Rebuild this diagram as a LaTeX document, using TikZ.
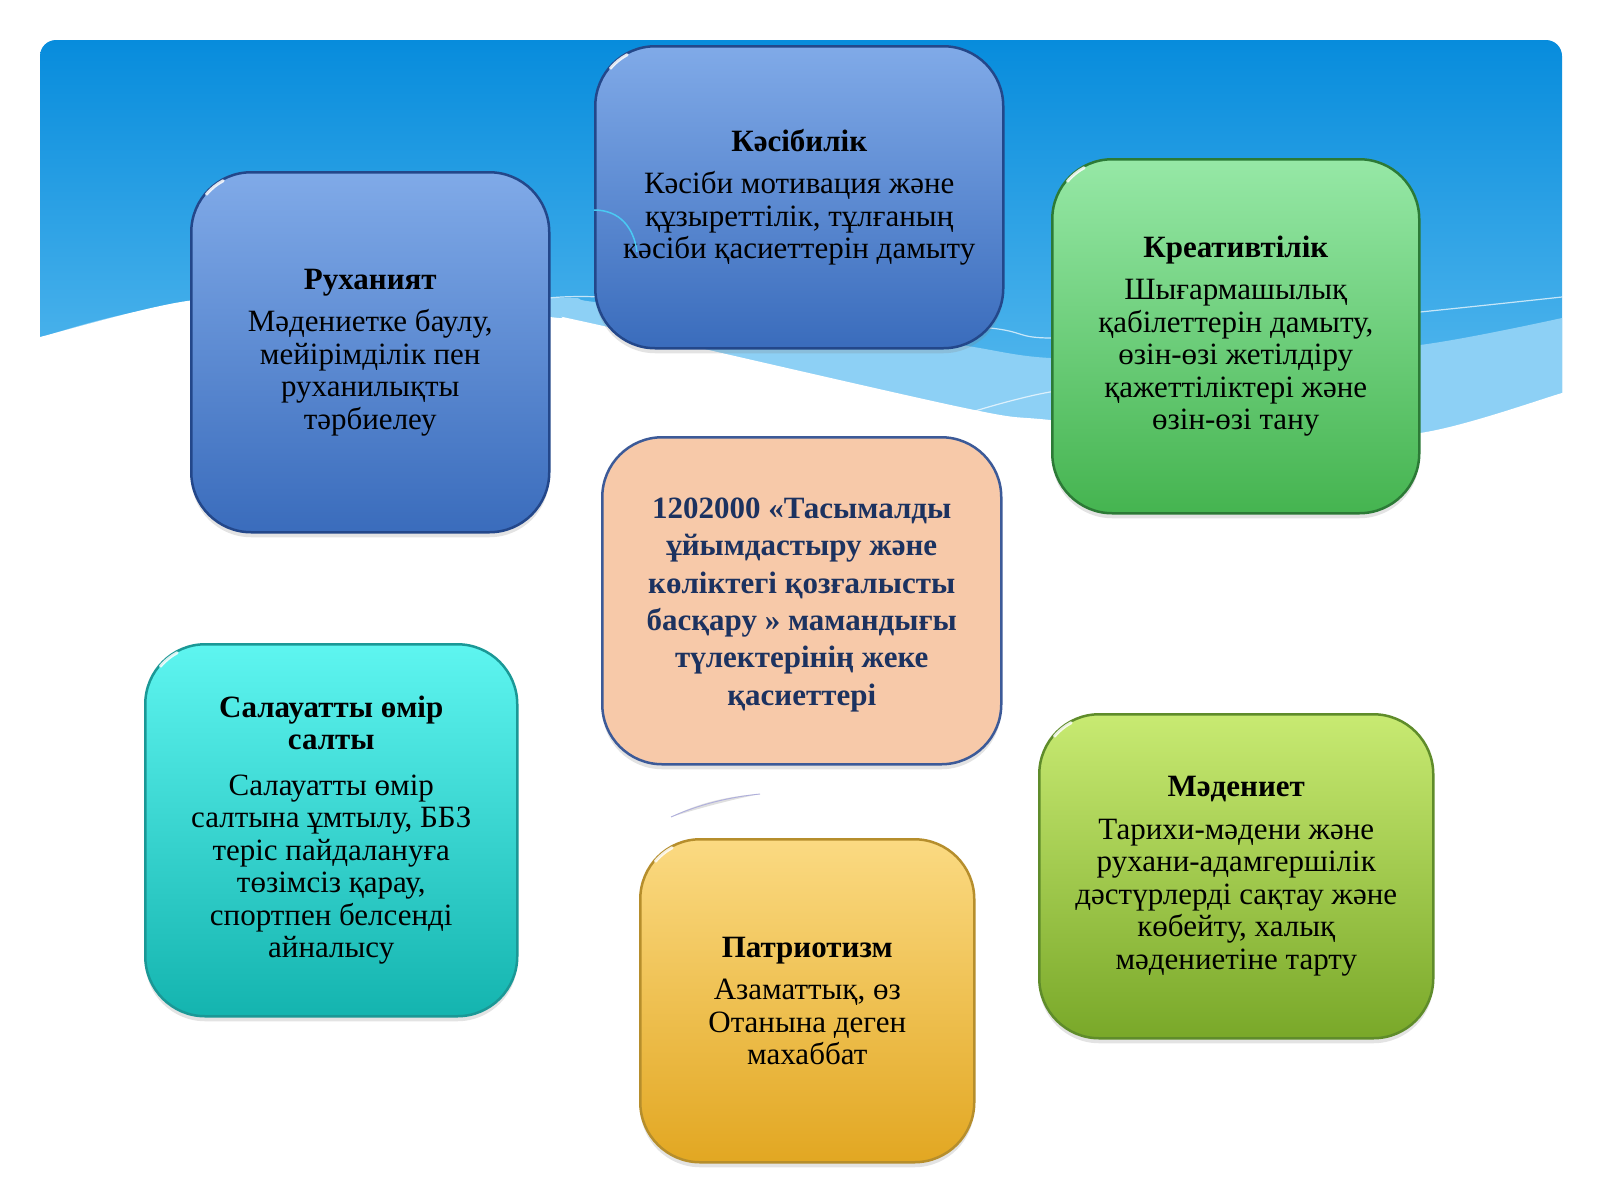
\documentclass[tikz,border=0pt]{standalone}
\usepackage{fontspec}
\setmainfont{Liberation Serif}
\usetikzlibrary{shadows}
\definecolor{skyA}{HTML}{078CDC}
\definecolor{skyB}{HTML}{5DBDF0}
\definecolor{skyBand}{HTML}{8DD0F5}
\definecolor{blueT}{HTML}{80AAE8}
\definecolor{blueB}{HTML}{3A6CBC}
\definecolor{blueD}{HTML}{23478A}
\definecolor{greenT}{HTML}{96E8A6}
\definecolor{greenB}{HTML}{45B450}
\definecolor{greenD}{HTML}{2C7A36}
\definecolor{peach}{HTML}{F7C9A9}
\definecolor{peachD}{HTML}{3C5A98}
\definecolor{navy}{HTML}{1C3260}
\definecolor{cyanT}{HTML}{5EF5F0}
\definecolor{cyanB}{HTML}{14B4AF}
\definecolor{cyanD}{HTML}{1A9896}
\definecolor{goldT}{HTML}{FBDA82}
\definecolor{goldB}{HTML}{E2A722}
\definecolor{goldD}{HTML}{B68E2C}
\definecolor{limeT}{HTML}{C8EA72}
\definecolor{limeB}{HTML}{79A829}
\definecolor{limeD}{HTML}{5F8C2A}
\tikzset{
  card/.style={rectangle, rounded corners=60pt, line width=2.5pt, inner sep=0pt,
    anchor=north west, align=center, font=\fontsize{31}{32.5}\selectfont,
    drop shadow={opacity=0.22, shadow xshift=0pt, shadow yshift=-5pt}},
  gloss/.style={white, line width=3pt, line cap=round, opacity=0.85},
  hl/.style={white, line width=1.2pt, opacity=0.7}
}
\newcommand{\ttl}[1]{\textbf{#1}\\[10pt]}
\begin{document}
\begin{tikzpicture}[x=1pt,y=-1pt]
\useasboundingbox[fill=white] (0,0) rectangle (1600,1200);
% sky background
\shade[top color=skyA, bottom color=skyB, rounded corners=16pt]
  (40,440) -- (40,40) -- (1562,40) -- (1562,440) -- cycle;
% light band
\fill[skyBand] plot[smooth] coordinates {(40,338) (190,304) (547,298) (595,302) (800,325) (960,345) (1050,358) (1230,360) (1420,345) (1562,318)}
  -- (1562,460) -- (40,460) -- cycle;
% highlight lines
\draw[hl] plot[smooth] coordinates {(540,299) (600,297) (800,312) (990,328) (1050,338) (1230,330) (1420,312) (1562,297)};
\draw[hl] plot[smooth] coordinates {(975,411) (1050,392) (1200,372)};
% white ground
\fill[white] plot[smooth] coordinates {(30,340) (40,337) (187,301) (350,292) (550,317) (590,323) (960,407) (1050,420) (1250,438) (1420,433) (1562,393) (1575,388)}
  -- (1600,388) -- (1600,1200) -- (0,1200) -- (0,340) -- cycle;

% boxes
\node[card, draw=blueD, top color=blueT, bottom color=blueB, minimum width=358pt, minimum height=360pt] (ruh) at (190,171)
  {\ttl{Руханият}Мәдениетке баулу,\\ мейірімділік пен\\ руханилықты\\ тәрбиелеу};
\node[card, draw=blueD, top color=blueT, bottom color=blueB, minimum width=408pt, minimum height=302pt] (kas) at (594,45)
  {\ttl{Кәсібилік}Кәсіби мотивация және\\ құзыреттілік, тұлғаның\\ кәсіби қасиеттерін дамыту};
\node[card, draw=greenD, top color=greenT, bottom color=greenB, minimum width=367pt, minimum height=354pt] (kre) at (1051,158)
  {\ttl{Креативтілік}Шығармашылық\\ қабілеттерін дамыту,\\ өзін-өзі жетілдіру\\ қажеттіліктері және\\ өзін-өзі тану};
\node[card, draw=peachD, fill=peach, minimum width=399pt, minimum height=327pt,
  drop shadow={opacity=0}] (cen) at (601,436) {};
\node[align=center, text=navy, font=\fontsize{31}{37.4}\selectfont\bfseries, inner sep=0pt,
  yshift=-4pt] (centext) at (cen.center)
  {1202000 «Тасымалды\\ ұйымдастыру және\\ көліктегі қозғалысты\\ басқару » мамандығы\\ түлектерінің жеке\\ қасиеттері};
\node[card, draw=cyanD, top color=cyanT, bottom color=cyanB, minimum width=372pt, minimum height=372pt] (sal) at (144,643)
  {\textbf{Салауатты өмір}\\ \textbf{салты}\\[13pt]Салауатты өмір\\ салтына ұмтылу, ББЗ\\ теріс пайдалануға\\ төзімсіз қарау,\\ спортпен белсенді\\ айналысу};
\node[card, draw=goldD, top color=goldT, bottom color=goldB, minimum width=334pt, minimum height=323pt] (pat) at (639,838)
  {\ttl{Патриотизм}Азаматтық, өз\\ Отанына деген\\ махаббат};
\node[card, draw=limeD, top color=limeT, bottom color=limeB, minimum width=394pt, minimum height=324pt] (mad) at (1038,713)
  {\ttl{Мәдениет}Тарихи-мәдени және\\ рухани-адамгершілік\\ дәстүрлерді сақтау және\\ көбейту, халық\\ мәдениетіне тарту};

% glossy corner highlights
\foreach \cx/\cy in {250/231, 654/105, 1111/218, 204/703, 699/898, 1098/773}
  \draw[gloss] (\cx,\cy) ++(118:57pt) arc[start angle=118, end angle=140, radius=57pt];

% small arc on Кәсібилік
\draw[skyB!80!cyan, line width=1.5pt] (594,210) .. controls (620,210) and (634,228) .. (637,252);
% small swoosh
\fill[gray!25] (671,817) .. controls (700,802) and (730,796) .. (760,794)
  .. controls (730,800) and (700,808) .. (671,817) -- cycle;
\draw[gray!60!blue!45, line width=0.9pt] (671,817) .. controls (700,804) and (730,797) .. (760,794);
\end{tikzpicture}
\end{document}
